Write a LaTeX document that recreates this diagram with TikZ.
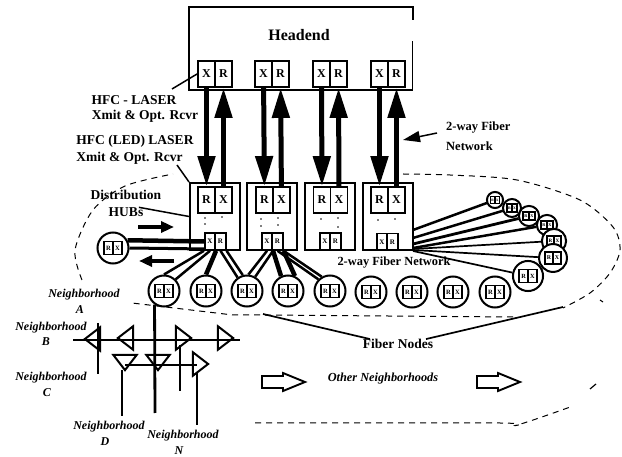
\documentclass[tikz,border=0pt]{standalone}
\usepackage{fontspec}
\setmainfont{Liberation Serif}
\usetikzlibrary{arrows.meta,shapes.geometric}
\begin{document}
\begin{tikzpicture}
      [   x=1pt,y=-1pt,
          hcell/.style={draw=black,line width=1.9pt,minimum width=17pt,minimum height=26pt,inner sep=0pt,font=\fontsize{12}{12}\selectfont\bfseries},
          scell/.style={draw=black,line width=1.6pt,minimum width=10.5pt,minimum height=17pt,inner sep=0pt,font=\fontsize{7}{7}\selectfont\bfseries},
          fcell/.style={draw=black,line width=1.5pt,minimum width=9pt,minimum height=13pt,inner sep=0pt,font=\fontsize{6.5}{6.5}\selectfont\bfseries},
          hub/.style={draw=black,line width=1.9pt,minimum width=50pt,minimum height=67pt,inner sep=0pt},
          fnode/.style={draw=black,fill=white,line width=2pt,circle,minimum size=31pt,inner sep=0pt},
          amp/.style={draw=black,line width=2pt,regular polygon,regular polygon sides=3,minimum size=27pt,inner sep=0pt,shape border rotate=#1},
          txt/.style={font=\fontsize{13.5}{15}\selectfont\bfseries,inner sep=0pt},
          nbh/.style={font=\fontsize{12}{14}\selectfont\itshape\bfseries,inner sep=0pt},
          bigarrow/.style={line width=5pt,-{Triangle[width=17pt,length=30pt]}},
          fatarrow/.style={line width=4.5pt,-{Triangle[width=11pt,length=13pt]}},
          hollow/.style={draw=black,line width=1.9pt,fill=white},
          fiber/.style={line width=2.5pt},
          fat/.style={line width=4.5pt},
          thin fan/.style={line width=1.7pt},
          bus/.style={line width=2.8pt},
          leader/.style={line width=1.5pt},
          region/.style={line width=1pt,dash pattern=on 6pt off 5pt},
      ]
          \useasboundingbox (0,0) rectangle (622,457);

          % headend
          \draw[line width=2.2pt] (413,20) -- (413,7) -- (189,7) -- (189,90) -- (413,90);
          \draw[line width=1pt] (412,90) -- (412,41);
          \node[txt,font=\fontsize{16}{16}\selectfont\bfseries] (headend) at (299,35) {Headend};
          \node[hcell] (ax) at (206.5,74) {X};
          \node[hcell] (ar) at (223.5,74) {R};
          \node[hcell] (bx) at (263.5,74) {X};
          \node[hcell] (br) at (280.5,74) {R};
          \node[hcell] (cx) at (321.5,74) {X};
          \node[hcell] (cr) at (338.5,74) {R};
          \node[hcell] (dx) at (379.5,74) {X};
          \node[hcell] (dr) at (396.5,74) {R};

          % distribution hubs
          \node[hub] (huba) at (215,216.5) {};
          \node[hub] (hubb) at (272,216.5) {};
          \node[hub] (hubc) at (330,216.5) {};
          \node[hub] (hubd) at (388,216.5) {};
          \node[hcell] (ahr) at (206.5,200) {R};
          \node[hcell] (ahx) at (223.5,200) {X};
          \node[hcell] (bhr) at (264.5,200) {R};
          \node[hcell] (bhx) at (281.5,200) {X};
          \node[hcell] (chr) at (322,200) {R};
          \node[hcell] (chx) at (339,200) {X};
          \node[hcell] (dhr) at (379.5,200) {R};
          \node[hcell] (dhx) at (396.5,200) {X};
          \node[scell] (asx) at (210,241.5) {X};
          \node[scell] (asr) at (220.5,241.5) {R};
          \node[scell] (bsx) at (267,241.5) {X};
          \node[scell] (bsr) at (277.5,241.5) {R};
          \node[scell] (csx) at (325,241.5) {X};
          \node[scell] (csr) at (335.5,241.5) {R};
          \node[scell] (dsx) at (382,242) {X};
          \node[scell] (dsr) at (392.5,242) {R};

          \draw[bigarrow] (ax) -- (ahr);
          \draw[bigarrow] (ahx) -- (ar);
          \draw[bigarrow] (bx) -- (bhr);
          \draw[bigarrow] (bhx) -- (br);
          \draw[bigarrow] (cx) -- (chr);
          \draw[bigarrow] (chx) -- (cr);
          \draw[bigarrow] (dx) -- (dhr);
          \draw[bigarrow] (dhx) -- (dr);

          \foreach \x/\y in {205/218,205/224,222/217,261/219,261/226,278/218,278/225,321/219,338/218,338/227,378/220,395/219}
            \fill (\x,\y) circle (0.9pt);

          % fiber nodes
          \node[fnode] (l) at (113,248) {};
          \node[fcell] at (108.5,248) {R};
          \node[fcell] at (117.5,248) {X};
          \node[fnode] (fa) at (164,291) {};
          \node[fcell] at (159.5,291) {R};
          \node[fcell] at (168.5,291) {X};
          \node[fnode] (fb) at (206,291) {};
          \node[fcell] at (201.5,291) {R};
          \node[fcell] at (210.5,291) {X};
          \node[fnode] (fc) at (247,291) {};
          \node[fcell] at (242.5,291) {R};
          \node[fcell] at (251.5,291) {X};
          \node[fnode] (fd) at (288,291) {};
          \node[fcell] at (283.5,291) {R};
          \node[fcell] at (292.5,291) {X};
          \node[fnode] (fe) at (330,291) {};
          \node[fcell] at (325.5,291) {R};
          \node[fcell] at (334.5,291) {X};
          \node[fnode] (ff) at (371,292) {};
          \node[fcell] at (366.5,292) {R};
          \node[fcell] at (375.5,292) {X};
          \node[fnode] (fg) at (412,292) {};
          \node[fcell] at (407.5,292) {R};
          \node[fcell] at (416.5,292) {X};
          \node[fnode] (fh) at (453,292) {};
          \node[fcell] at (448.5,292) {R};
          \node[fcell] at (457.5,292) {X};
          \node[fnode] (fi) at (495,292) {};
          \node[fcell] at (490.5,292) {R};
          \node[fcell] at (499.5,292) {X};

          \coordinate (fana) at (413,230);
          \coordinate (fanb) at (413,238);
          \coordinate (fanc) at (413,244);
          \coordinate (fand) at (413,248);
          \coordinate (fane) at (413,249);
          \coordinate (fanf) at (413,250);
          \coordinate (fang) at (413,251);
          \node[fnode,scale=0.52] (ra) at (495,200) {};
          \node[fcell,scale=0.52] at (492.7,200) {R};
          \node[fcell,scale=0.52] at (497.3,200) {X};
          \node[fnode,scale=0.58] (rb) at (512,208) {};
          \node[fcell,scale=0.58] at (509.4,208) {R};
          \node[fcell,scale=0.58] at (514.6,208) {X};
          \node[fnode,scale=0.65] (rc) at (529,216) {};
          \node[fcell,scale=0.65] at (526,216) {R};
          \node[fcell,scale=0.65] at (532,216) {X};
          \node[fnode,scale=0.65] (rd) at (547,225) {};
          \node[fcell,scale=0.65] at (544,225) {R};
          \node[fcell,scale=0.65] at (550,225) {X};
          \node[fnode,scale=0.78] (re) at (554,241) {};
          \node[fcell,scale=0.78] at (550.5,241) {R};
          \node[fcell,scale=0.78] at (557.5,241) {X};
          \node[fnode,scale=0.9] (rf) at (553,258) {};
          \node[fcell,scale=0.9] at (549,258) {R};
          \node[fcell,scale=0.9] at (557,258) {X};
          \node[fnode,scale=0.97] (rg) at (528,276) {};
          \node[fcell,scale=0.97] at (523.6,276) {R};
          \node[fcell,scale=0.97] at (532.4,276) {X};

          \draw[fat] (asx.west) -- (l.28);
          \draw[line width=3pt] (asx.231) -- (l.east);
          \draw[fiber] (asx.south west) -- (fa.90);
          \draw[fiber] (asx.south) -- (fa.45);
          \draw[fat] (asx.south east) -- (fb.north);
          \draw[fiber] (asr.south) -- (fc.125);
          \draw[fiber] (asr.south east) -- (fc.105);
          \draw[fiber] (bsx.south) -- (fc.85);
          \draw[fiber] (bsx.south east) -- (fc.60);
          \draw[fat] (bsx.south east) -- (fd.115);
          \draw[fat] (bsr.south east) -- (fd.65);
          \draw[fiber] (bsr.south) -- (fe.135);
          \draw[fiber] (bsr.south east) -- (fe.120);

          \draw[fiber] (fana) -- (ra);
          \draw[fiber] (fanb) -- (rb);
          \draw[line width=2.8pt] (fanc) -- (rc);
          \draw[fiber] (fand) -- (rd);
          \draw[thin fan] (fane) -- (re);
          \draw[thin fan] (fanf) -- (rf);
          \draw[thin fan] (fang) -- (rg);

          % neighborhoods
          \coordinate (busbl) at (73,340);
          \coordinate (busbr) at (240,340);
          \coordinate (buscl) at (125,365);
          \coordinate (buscr) at (197,365);
          \coordinate (ea) at (98,323);
          \coordinate (eb) at (98,374);
          \coordinate (ec) at (180,345);
          \coordinate (ed) at (180,391);
          \coordinate (ee) at (122,370);
          \coordinate (ef) at (122,416);
          \coordinate (eg) at (197,372);
          \coordinate (eh) at (197,425);
          \coordinate (ei) at (155,413);
          \node[amp=90,xscale=0.75] (aa) at (95,339) {};
          \node[amp=90,xscale=0.75] (ab) at (128,338) {};
          \node[amp=-90,xscale=0.75] (ac) at (181,338) {};
          \node[amp=-90,xscale=0.75] (ad) at (223,338) {};
          \node[amp=180,yscale=0.75] (ae) at (125,360) {};
          \node[amp=180,yscale=0.75] (af) at (158,360) {};
          \node[amp=-90,xscale=0.75] (ag) at (198,364) {};
          \draw[bus] (busbl) -- (busbr);
          \draw[bus] (buscl) -- (buscr);
          \draw[bus] (ea) -- (eb);
          \draw[bus] (ec) -- (ed);
          \draw[bus] (ee) -- (ef);
          \draw[bus] (eg) -- (eh);
          \draw[bus] (fa.235) -- (ei);

          \node[nbh] (na) at (84,295) {Neighborhood};
          \node[nbh] (naa) at (80,310) {A};
          \node[nbh] (nb) at (51,328) {Neighborhood};
          \node[nbh] (nbb) at (46,342) {B};
          \node[nbh] (nc) at (51,378) {Neighborhood};
          \node[nbh] (ncc) at (47,393) {C};
          \node[nbh] (nd) at (109,427) {Neighborhood};
          \node[nbh] (ndd) at (105,442) {D};
          \node[nbh] (nn) at (183,436) {Neighborhood};
          \node[nbh] (nnn) at (179,451) {N};

          % dashed regions
          \draw[region] plot[smooth] coordinates {(403,174) (450,175) (517,180) (580,200) (613,227) (620,250) (610,273) (590,293) (563,308)};
          \draw[region] (603,302) -- (600,300);
          \draw[region] (513,317) -- (263,315) -- (233,315) -- (132,303);
          \draw[region] plot[smooth] coordinates {(82,280) (75,250) (93,210) (125,186) (173,174)};
          \draw[region] plot[smooth] coordinates {(255,423) (500,423) (517,425) (573,406)};
          \draw[line width=1.2pt] (590,389) -- (596,384);

          % labels and leaders
          \node[txt] (hfca) at (134,100) {HFC - LASER};
          \node[txt] (hfcb) at (145,116) {Xmit \& Opt. Rcvr};
          \node[txt] (hfcc) at (135,141) {HFC (LED) LASER};
          \node[txt] (hfcd) at (129.5,158) {Xmit \& Opt. Rcvr};
          \node[txt] (dist) at (126,195) {Distribution};
          \node[txt] (hubs) at (126,212) {HUBs};
          \node[txt,anchor=west,font=\fontsize{12.5}{14}\selectfont\bfseries] (twoa) at (446,128) {2-way Fiber};
          \node[txt,anchor=west,font=\fontsize{12.5}{14}\selectfont\bfseries] (twob) at (446,146) {Network};
          \node[txt,font=\fontsize{12.4}{14}\selectfont\bfseries] (twoc) at (394,263) {2-way Fiber Network};
          \node[txt] (fnodes) at (398,344) {Fiber Nodes};
          \node[txt,font=\fontsize{12.3}{14}\selectfont\itshape\bfseries] (other) at (383,379) {Other Neighborhoods};

          \coordinate (hfcat) at (172,89);
          \coordinate (hfcct) at (177,165);
          \coordinate (twot) at (437,133);
          \coordinate (twoh) at (403,140);
          \coordinate (nodea) at (263,314);
          \coordinate (nodeb) at (563,307);
          \draw[leader] (hfcat) -- (ax.west);
          \draw[leader] (hfcct) -- (huba.north west);
          \draw[leader] (hubs.20) -- (huba.west);
          \draw[line width=1.5pt,-{Triangle[width=11pt,length=17pt]}] (twot) -- (twoh);
          \draw[leader,line width=1.7pt] (fnodes.170) -- (nodea);
          \draw[leader,line width=1.7pt] (fnodes.10) -- (nodeb);

          \coordinate (arra) at (138,227);
          \coordinate (arrb) at (174,227);
          \coordinate (arrc) at (174,261);
          \coordinate (arrd) at (139,261);
          \draw[fatarrow] (arra) -- (arrb);
          \draw[fatarrow] (arrc) -- (arrd);

          \draw[hollow] (262,376) -- (283,376) -- (283,373) -- (305,382) -- (283,391) -- (283,388) -- (262,388) -- cycle;
          \draw[hollow] (477,376) -- (498,376) -- (498,373) -- (520,382) -- (498,391) -- (498,388) -- (477,388) -- cycle;
    \end{tikzpicture}
\end{document}
